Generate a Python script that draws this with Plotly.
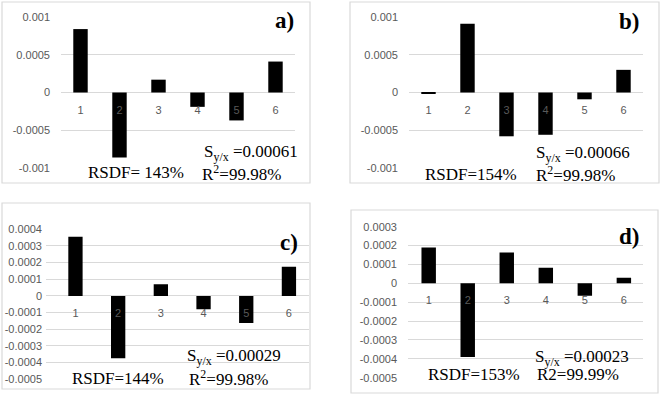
import plotly.graph_objects as go

W, H = 661, 395

# datos de residuos por punto de calibracion
puntos = ["1", "2", "3", "4", "5", "6"]
res_a = [0.00084, -0.00086, 0.00017, -0.00019, -0.00037, 0.00041]
res_b = [-0.00002, 0.00091, -0.00058, -0.00056, -0.00009, 0.00030]
res_c = [0.000356, -0.000374, 0.00007, -0.00008, -0.000162, 0.000176]
res_d = [0.00019, -0.00039, 0.000163, 0.000082, -0.000066, 0.00003]

ticks_ab = [0.001, 0.0005, 0, -0.0005, -0.001]
ticks_ab_txt = ["0.001", "0.0005", "0", "-0.0005", "-0.001"]
ticks_c = [0.0004, 0.0003, 0.0002, 0.0001, 0, -0.0001, -0.0002, -0.0003, -0.0004, -0.0005]
ticks_c_txt = ["0.0004", "0.0003", "0.0002", "0.0001", "0", "-0.0001", "-0.0002", "-0.0003", "-0.0004", "-0.0005"]
ticks_d = [0.0003, 0.0002, 0.0001, 0, -0.0001, -0.0002, -0.0003, -0.0004, -0.0005]
ticks_d_txt = ["0.0003", "0.0002", "0.0001", "0", "-0.0001", "-0.0002", "-0.0003", "-0.0004", "-0.0005"]

etiquetas = ["a)", "b)", "c)", "d)"]
syx = ["0.00061", "0.00066", "0.00029", "0.00023"]
rsdf = ["RSDF= 143%", "RSDF=154%", "RSDF=144%", "RSDF=153%"]
r2 = ["R<sup>2</sup>=99.98%", "R<sup>2</sup>=99.98%", "R<sup>2</sup>=99.98%", "R2=99.99%"]


def px(x):
    return x / W


def py(y):
    return 1 - y / H


# posiciones en pixeles de cada panel
paneles = [
    dict(y=res_a, tv=ticks_ab, tt=ticks_ab_txt, xd=(61, 295), yd=(17, 168),
         xr=[-0.5, 5.5], yr=[-0.001, 0.001], w=0.37, borde=(2, 2, 310, 183),
         lab=(273, 21), s=(202, 152.5), rs=(86, 172.5), rr=(200, 172.5), sy=10),
    dict(y=res_b, tv=ticks_ab, tt=ticks_ab_txt, xd=(409, 643), yd=(17, 168),
         xr=[-0.5, 5.5], yr=[-0.001, 0.001], w=0.37, borde=(350, 2, 659, 183),
         lab=(617, 22), s=(534, 153.5), rs=(423, 174), rr=(534, 174), sy=10),
    dict(y=res_c, tv=ticks_c, tt=ticks_c_txt, xd=(46, 309), yd=(229.3, 379.3),
         xr=[-0.69, 5.47], yr=[-0.0005, 0.0004], w=0.335, borde=(2, 203, 310, 389),
         lab=(278, 243), s=(185, 356.5), rs=(70, 378), rr=(187, 378), sy=3),
    dict(y=res_d, tv=ticks_d, tt=ticks_d_txt, xd=(408, 643), yd=(226.7, 377.7),
         xr=[-0.53, 5.49], yr=[-0.0005, 0.0003], w=0.37, borde=(351, 210, 658, 393),
         lab=(617, 236), s=(533, 358), rs=(426, 374), rr=(535, 374), sy=10),
]

fig = go.Figure()
gris = "#d9d9d9"
fuente_eje = dict(family="Liberation Sans", size=11, color="#595959")
serif = dict(family="Liberation Serif", size=17, color="black")

for i, p in enumerate(paneles):
    n = "" if i == 0 else str(i + 1)
    fig.add_trace(go.Bar(x=puntos, y=p["y"], width=p["w"], marker_color="black",
                         marker_line_width=0, xaxis="x" + n, yaxis="y" + n,
                         showlegend=False))
    ydom = [py(p["yd"][1]), py(p["yd"][0])]
    pos0 = ydom[0] + (0 - p["yr"][0]) / (p["yr"][1] - p["yr"][0]) * (ydom[1] - ydom[0])
    fig.update_layout(**{
        "xaxis" + n: dict(domain=[px(p["xd"][0]), px(p["xd"][1])], type="category",
                          range=p["xr"], anchor="free", position=pos0, showgrid=False,
                          showline=False, zeroline=False, ticks="", tickfont=fuente_eje,
                          ticklabelstandoff=9, automargin=False, fixedrange=True),
        "yaxis" + n: dict(domain=ydom, range=p["yr"], anchor="x" + n, tickvals=p["tv"],
                          ticktext=p["tt"], showgrid=True, gridcolor=gris, gridwidth=1,
                          zeroline=True, zerolinecolor=gris, zerolinewidth=1,
                          showline=False, ticks="", tickfont=fuente_eje,
                          ticklabelstandoff=p["sy"], automargin=False, fixedrange=True),
    })
    x0, y0, x1, y1 = p["borde"]
    fig.add_shape(type="rect", xref="paper", yref="paper", x0=px(x0), x1=px(x1),
                  y0=py(y1), y1=py(y0), line=dict(color=gris, width=1.2))
    fig.add_annotation(text="<b>" + etiquetas[i] + "</b>", x=px(p["lab"][0]), y=py(p["lab"][1]),
                       xref="paper", yref="paper", xanchor="left", yanchor="middle",
                       showarrow=False, font=dict(family="Liberation Serif", size=23, color="black"))
    fig.add_annotation(text="S<sub>y/x</sub> =" + syx[i], x=px(p["s"][0]), y=py(p["s"][1]),
                       xref="paper", yref="paper", xanchor="left", yanchor="middle",
                       showarrow=False, font=serif)
    fig.add_annotation(text=rsdf[i], x=px(p["rs"][0]), y=py(p["rs"][1]),
                       xref="paper", yref="paper", xanchor="left", yanchor="middle",
                       showarrow=False, font=serif)
    fig.add_annotation(text=r2[i], x=px(p["rr"][0]), y=py(p["rr"][1]),
                       xref="paper", yref="paper", xanchor="left", yanchor="middle",
                       showarrow=False, font=serif)

fig.update_layout(width=W, height=H, margin=dict(l=0, r=0, t=0, b=0),
                  paper_bgcolor="white", plot_bgcolor="white", bargap=0.6)
fig.write_html("out.html", config={"displayModeBar": False},
               post_script="document.body.style.margin='0';")
